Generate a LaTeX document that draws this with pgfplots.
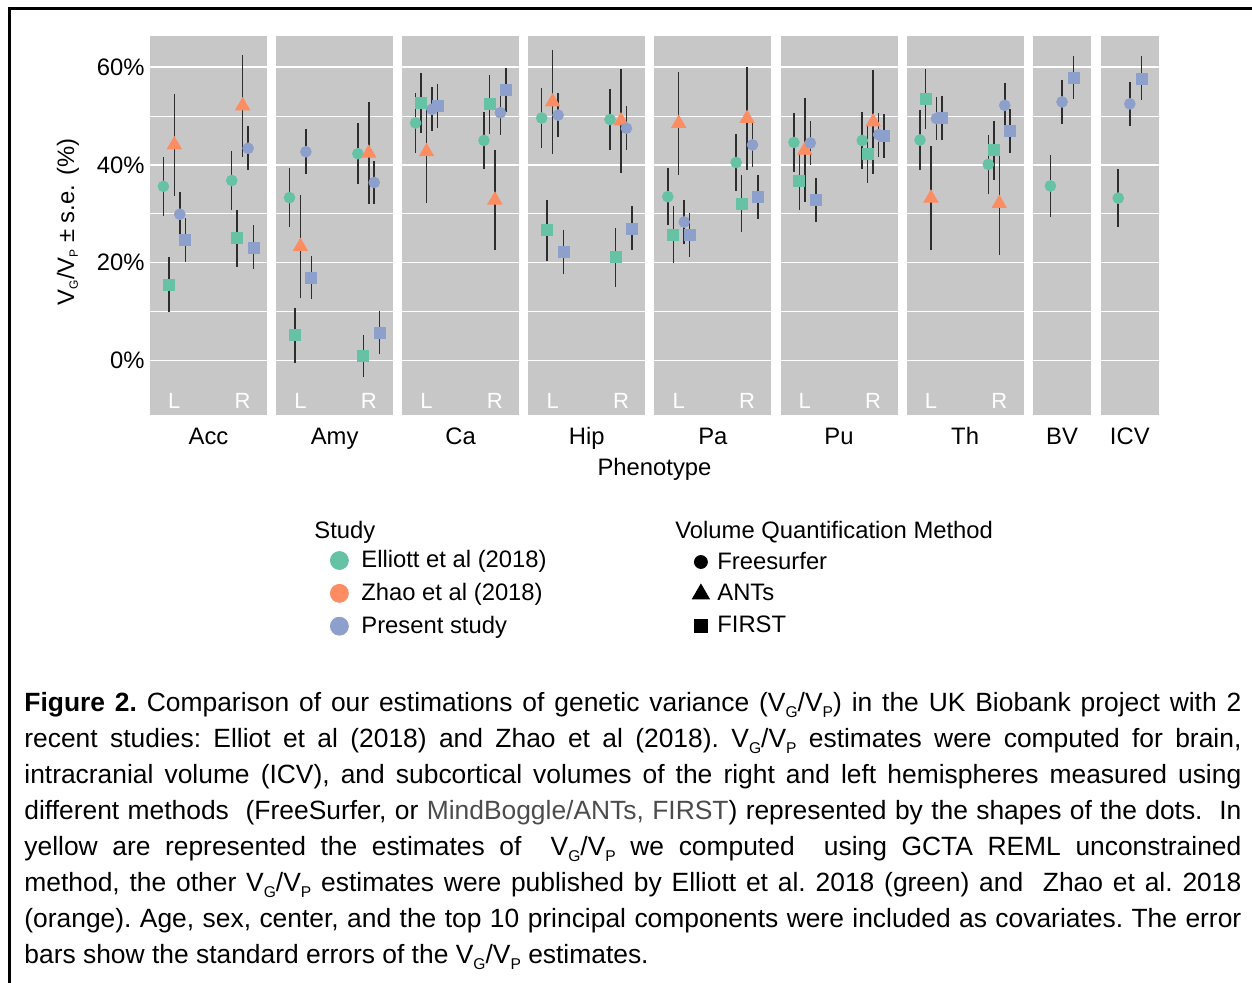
\documentclass[border=0pt]{standalone}
\usepackage{pgfplots}
\pgfplotsset{compat=1.18}
\usepackage{fontspec}
\setmainfont{Liberation Sans}
\definecolor{bg}{RGB}{199,199,199}
\definecolor{cg}{HTML}{66C2A5}
\definecolor{co}{HTML}{FC8D62}
\definecolor{cb}{HTML}{8DA0CB}
\definecolor{eb}{RGB}{45,45,45}
\newcommand{\fs}{\fontsize{11.9}{14}\selectfont}
\newcommand{\sub}[1]{\raisebox{-0.3ex}{\fontsize{6}{6}\selectfont #1}}
\newcommand{\VGVP}{V\sub{G}/V\sub{P}}
\newcommand{\csub}[1]{\raisebox{-0.4ex}{\fontsize{7.8}{8}\selectfont #1}}
\newcommand{\CVGVP}{V\csub{G}/V\csub{P}}
\tikzset{lr/.style={white, font=\fontsize{11}{12}\selectfont, anchor=base, inner sep=0pt}}
\pgfplotsset{
  panel/.style={
    scale only axis, anchor=south west,
    height=189.5pt, width=58.5pt,
    xmin=0.644, xmax=2.356,
    ymin=-11.2, ymax=66.4,
    axis background/.style={fill=bg},
    axis line style={draw=none},
    xtick=\empty,
    ytick={0,20,40,60}, minor ytick={10,30,50},
    yticklabels={},
    ymajorgrids, yminorgrids,
    major grid style={white, line width=0.75pt},
    minor grid style={white, line width=0.45pt},
    major tick length=0pt, minor tick length=0pt,
    clip=false,
    xlabel style={font=\fs, at={(axis description cs:0.5,0)}, anchor=base, yshift=-14.65pt},
    error bars/y dir=both, error bars/y explicit, error bars/error mark=none,
    error bars/error bar style={line width=0.75pt, eb},
  },
  narrow/.style={width=29.2pt, xmin=0.572, xmax=1.428},
  gc/.style={only marks, mark=*, mark size=2.7pt, color=cg, mark options={draw=none, fill=cg}},
  gs/.style={only marks, mark=square*, mark size=2.75pt, color=cg, mark options={draw=none, fill=cg}},
  ot/.style={only marks, mark=triangle*, mark size=4.05pt, color=co, mark options={draw=none, fill=co}},
  bc/.style={only marks, mark=*, mark size=2.7pt, color=cb, mark options={draw=none, fill=cb}},
  bs/.style={only marks, mark=square*, mark size=2.75pt, color=cb, mark options={draw=none, fill=cb}},
}
\newcommand{\LR}{\node[lr] at (axis cs:1,-9.83) {L}; \node[lr] at (axis cs:2,-9.83) {R};}
\begin{document}
\begin{tikzpicture}
\useasboundingbox (0pt,0pt) rectangle (626pt,491.5pt);
% ---------- Acc
\begin{axis}[panel, at={(75pt,284pt)}, xlabel={Acc},
  yticklabels={0\%,20\%,40\%,60\%},
  yticklabel style={font=\fs, inner sep=0pt, xshift=-2.5pt}]
\addplot[gc] coordinates {(0.84,35.6) +- (0,6.0) (1.84,36.8) +- (0,6.0)};
\addplot[gs] coordinates {(0.92,15.5) +- (0,5.7) (1.92,25.0) +- (0,5.8)};
\addplot[ot] coordinates {(1,44.1) +- (0,10.5) (2,52.1) +- (0,10.5)};
\addplot[bc] coordinates {(1.08,29.9) +- (0,4.5) (2.08,43.4) +- (0,4.5)};
\addplot[bs] coordinates {(1.16,24.6) +- (0,4.5) (2.16,23.1) +- (0,4.5)};
\LR
\end{axis}
% ---------- Amy
\begin{axis}[panel, at={(138.05pt,284pt)}, xlabel={Amy}]
\addplot[gc] coordinates {(0.84,33.3) +- (0,6.1) (1.84,42.3) +- (0,6.2)};
\addplot[gs] coordinates {(0.92,5.1) +- (0,5.6) (1.92,0.9) +- (0,4.3)};
\addplot[ot] coordinates {(1,23.3) +- (0,10.5) (2,42.4) +- (0,10.4)};
\addplot[bc] coordinates {(1.08,42.7) +- (0,4.6) (2.08,36.4) +- (0,4.5)};
\addplot[bs] coordinates {(1.16,16.9) +- (0,4.4) (2.16,5.7) +- (0,4.4)};
\LR
\end{axis}
% ---------- Ca
\begin{axis}[panel, at={(201.1pt,284pt)}, xlabel={Ca}]
\addplot[gc] coordinates {(0.84,48.6) +- (0,6.1) (1.84,45.0) +- (0,5.9)};
\addplot[gs] coordinates {(0.92,52.7) +- (0,6.1) (1.92,52.4) +- (0,6.0)};
\addplot[ot] coordinates {(1,42.7) +- (0,10.4) (2,32.8) +- (0,10.3)};
\addplot[bc] coordinates {(1.08,51.4) +- (0,4.5) (2.08,50.7) +- (0,4.5)};
\addplot[bs] coordinates {(1.16,52.0) +- (0,4.5) (2.16,55.3) +- (0,4.5)};
\LR
\end{axis}
% ---------- Hip
\begin{axis}[panel, at={(264.15pt,284pt)}, xlabel={Hip}]
\addplot[gc] coordinates {(0.84,49.6) +- (0,6.1) (1.84,49.3) +- (0,6.2)};
\addplot[gs] coordinates {(0.92,26.6) +- (0,6.2) (1.92,21.1) +- (0,6.0)};
\addplot[ot] coordinates {(1,52.9) +- (0,10.6) (2,49.0) +- (0,10.6)};
\addplot[bc] coordinates {(1.08,50.2) +- (0,4.5) (2.08,47.5) +- (0,4.5)};
\addplot[bs] coordinates {(1.16,22.1) +- (0,4.5) (2.16,27.0) +- (0,4.5)};
\LR
\end{axis}
% ---------- Pa
\begin{axis}[panel, at={(327.2pt,284pt)}, xlabel={Pa}]
\addplot[gc] coordinates {(0.84,33.5) +- (0,5.9) (1.84,40.5) +- (0,5.9)};
\addplot[gs] coordinates {(0.92,25.7) +- (0,5.8) (1.92,32.1) +- (0,5.9)};
\addplot[ot] coordinates {(1,48.5) +- (0,10.5) (2,49.5) +- (0,10.5)};
\addplot[bc] coordinates {(1.08,28.3) +- (0,4.5) (2.08,44.1) +- (0,4.5)};
\addplot[bs] coordinates {(1.16,25.6) +- (0,4.5) (2.16,33.5) +- (0,4.5)};
\LR
\end{axis}
% ---------- Pu
\begin{axis}[panel, at={(390.25pt,284pt)}, xlabel={Pu}]
\addplot[gc] coordinates {(0.84,44.6) +- (0,6.1) (1.84,45.0) +- (0,5.9)};
\addplot[gs] coordinates {(0.92,36.8) +- (0,6.0) (1.92,42.2) +- (0,6.0)};
\addplot[ot] coordinates {(1,43.0) +- (0,10.6) (2,48.8) +- (0,10.6)};
\addplot[bc] coordinates {(1.08,44.5) +- (0,4.5) (2.08,46.2) +- (0,4.5)};
\addplot[bs] coordinates {(1.16,32.8) +- (0,4.5) (2.16,45.9) +- (0,4.5)};
\LR
\end{axis}
% ---------- Th
\begin{axis}[panel, at={(453.3pt,284pt)}, xlabel={Th}]
\addplot[gc] coordinates {(0.84,45.1) +- (0,6.1) (1.84,40.1) +- (0,6.0)};
\addplot[gs] coordinates {(0.92,53.5) +- (0,6.1) (1.92,43.0) +- (0,6.0)};
\addplot[ot] coordinates {(1,33.2) +- (0,10.6) (2,32.1) +- (0,10.6)};
\addplot[bc] coordinates {(1.08,49.5) +- (0,4.5) (2.08,52.2) +- (0,4.5)};
\addplot[bs] coordinates {(1.16,49.7) +- (0,4.5) (2.16,47.0) +- (0,4.5)};
\LR
\end{axis}
% ---------- BV
\begin{axis}[panel, narrow, at={(516.4pt,284pt)}, xlabel={BV}]
\addplot[gc] coordinates {(0.83,35.7) +- (0,6.3)};
\addplot[bc] coordinates {(1.00,52.9) +- (0,4.5)};
\addplot[bs] coordinates {(1.17,57.9) +- (0,4.5)};
\end{axis}
% ---------- ICV
\begin{axis}[panel, narrow, at={(550.3pt,284pt)}, xlabel={ICV}]
\addplot[gc] coordinates {(0.83,33.2) +- (0,6.0)};
\addplot[bc] coordinates {(1.00,52.5) +- (0,4.5)};
\addplot[bs] coordinates {(1.17,57.7) +- (0,4.5)};
\end{axis}
% ---------- legends
\begin{axis}[at={(0pt,0pt)}, anchor=south west, scale only axis, width=626pt, height=491.5pt,
  xmin=0, xmax=1252, ymin=0, ymax=983, y dir=reverse, hide axis,
  legend style={at={(axis cs:330,547)}, anchor=north west, draw=none, fill=none, inner sep=0pt,
    row sep=3.3pt, column sep=5pt, font=\fs, nodes={inner sep=1.5pt}},
  legend cell align=left,
  legend image code/.code={\draw[mark repeat=2,mark phase=2,#1] plot coordinates {(0pt,0pt) (5pt,0pt) (10pt,0pt)};}]
\addlegendimage{only marks, mark=*, mark size=4.5pt, cg, mark options={draw=none, fill=cg}}
\addlegendentry{Elliott et al (2018)}
\addlegendimage{only marks, mark=*, mark size=4.5pt, co, mark options={draw=none, fill=co}}
\addlegendentry{Zhao et al (2018)}
\addlegendimage{only marks, mark=*, mark size=4.5pt, cb, mark options={draw=none, fill=cb}}
\addlegendentry{Present study}
\end{axis}
\begin{axis}[at={(0pt,0pt)}, anchor=south west, scale only axis, width=626pt, height=491.5pt,
  xmin=0, xmax=1252, ymin=0, ymax=983, y dir=reverse, hide axis,
  legend style={at={(axis cs:692,548.5)}, anchor=north west, draw=none, fill=none, inner sep=0pt,
    row sep=3.1pt, column sep=2.5pt, font=\fs, nodes={inner sep=1.5pt}},
  legend cell align=left,
  legend image code/.code={\draw[mark repeat=2,mark phase=2,#1] plot coordinates {(0pt,0pt) (5pt,0pt) (10pt,0pt)};}]
\addlegendimage{only marks, mark=*, mark size=3.25pt, black}
\addlegendentry{Freesurfer}
\addlegendimage{only marks, mark=triangle*, mark size=4.9pt, black}
\addlegendentry{ANTs}
\addlegendimage{only marks, mark=square*, mark size=3.2pt, black}
\addlegendentry{FIRST}
\end{axis}
% ---------- texts in pixel coordinates
\begin{scope}[x=0.5pt, y=-0.5pt, yshift=491.5pt]
\draw[line width=1.35pt] (9.5,983) -- (9.5,8.5) -- (1252,8.5);
\node[rotate=90, font=\fs] at (68,222) {\VGVP{} ± s.e. (\%)};
\node[font=\fs] at (654.5,469) {Phenotype};
\node[font=\fs, anchor=base west, inner sep=0pt] at (314,538.5) {Study};
\node[font=\fs, anchor=base west, inner sep=0pt] at (675,538.5) {Volume Quantification Method};
\node[anchor=base west, inner sep=0pt] at (24,711.5) {\parbox[t]{608.5pt}{\fontsize{13.2}{18}\selectfont\frenchspacing\tolerance=10000
\textbf{Figure 2.} Comparison of our estimations of genetic variance (\CVGVP) in the UK Biobank project with 2\linebreak
recent studies: Elliot et al (2018) and Zhao et al (2018). \CVGVP{} estimates were computed for brain,\linebreak
intracranial volume (ICV), and subcortical volumes of the right and left hemispheres measured using\linebreak
different methods\ \ (FreeSurfer, or {\color{black!70}MindBoggle/ANTs, FIRST}) represented by the shapes of the dots.\ \ In\linebreak
yellow are represented the estimates of\ \ \CVGVP{} we computed\ \ using GCTA REML unconstrained\linebreak
method, the other \CVGVP{} estimates were published by Elliott et al. 2018 (green) and\ \ Zhao et al. 2018\linebreak
(orange). Age, sex, center, and the top 10 principal components were included as covariates. The error\linebreak
bars show the standard errors of the \CVGVP{} estimates.}};
\end{scope}
\end{tikzpicture}
\end{document}
